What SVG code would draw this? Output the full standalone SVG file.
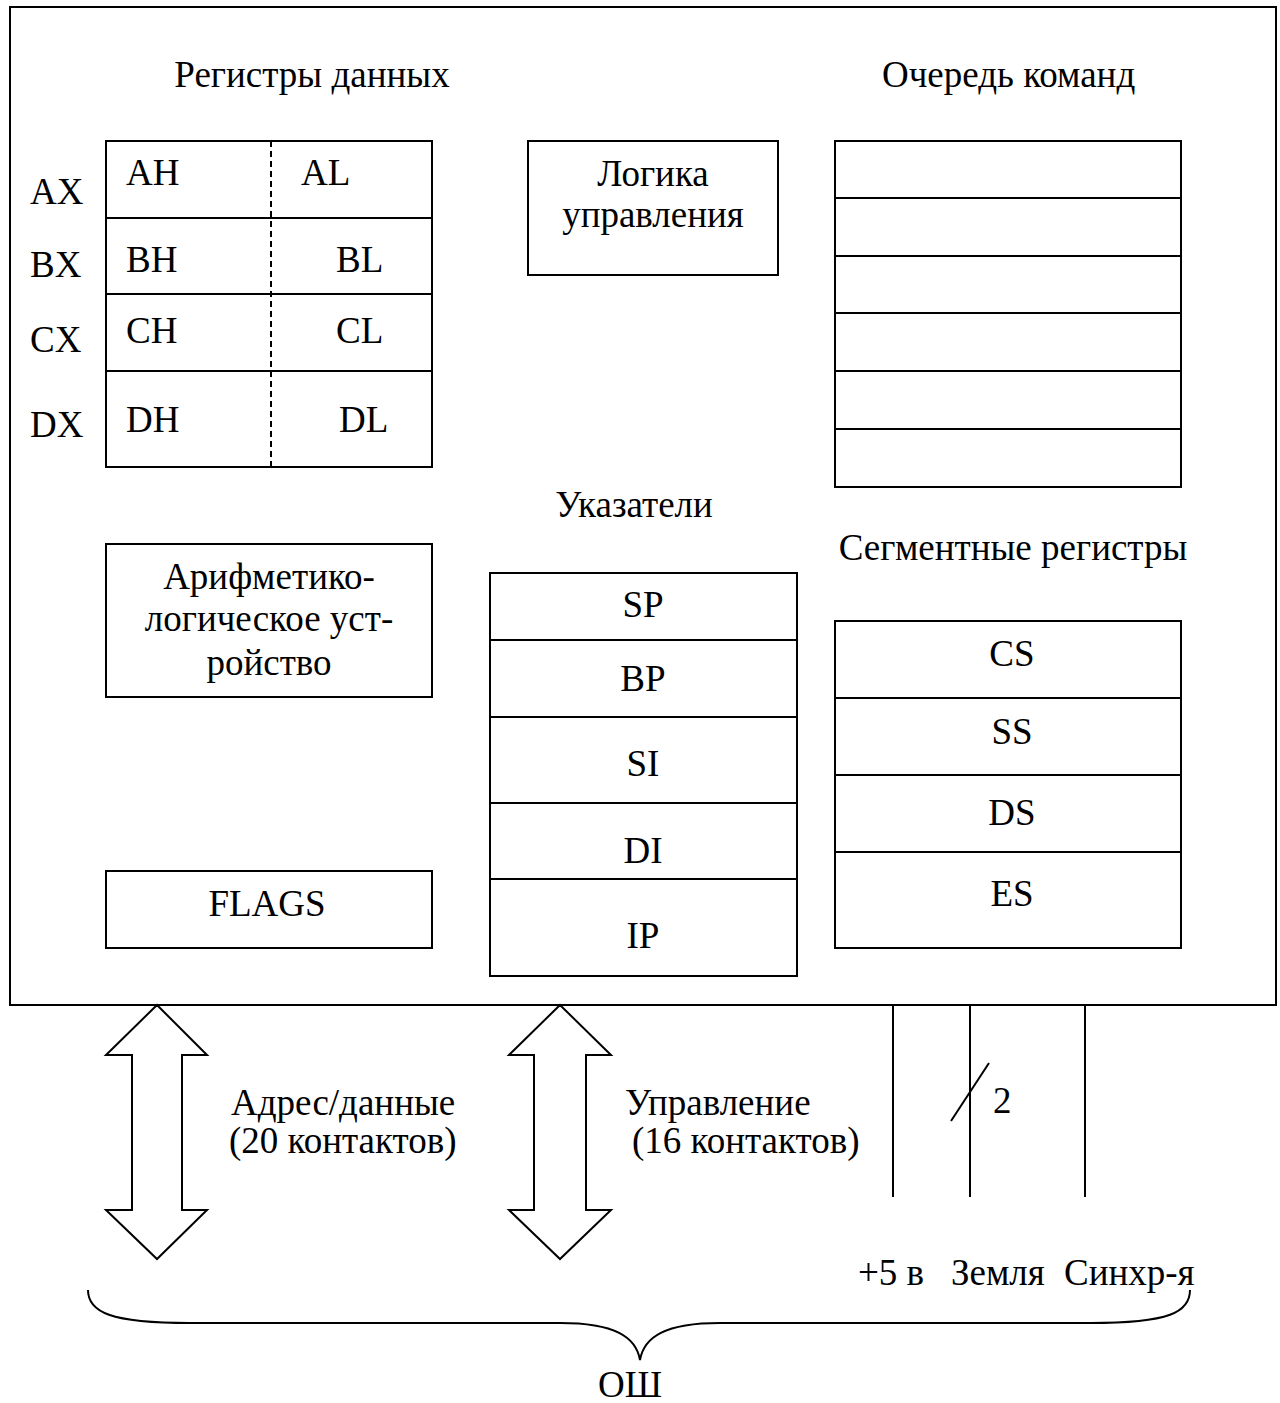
<svg xmlns="http://www.w3.org/2000/svg" width="1280" height="1403" viewBox="0 0 1280 1403">
  <style>
    .box { fill: none; stroke: #000; stroke-width: 2; }
    .ln { fill: none; stroke: #000; stroke-width: 2; }
    .dash { fill: none; stroke: #000; stroke-width: 2; stroke-dasharray: 6 4; }
    .t { font-family: "Liberation Serif", "Times New Roman", serif; font-size: 37px; fill: #000; }
    .c { text-anchor: middle; }
  </style>
  <rect width="1280" height="1403" fill="#fff"/>

  <!-- processor outline -->
  <g id="cpu">
    <rect class="box" x="10" y="7" width="1266" height="998" stroke-width="2.5"/>
  </g>

  <!-- data registers -->
  <g id="data-registers">
    <text class="t c" x="312" y="87">Регистры данных</text>
    <rect class="box" x="106" y="141" width="326" height="326"/>
    <line class="ln" x1="106" y1="218" x2="432" y2="218"/>
    <line class="ln" x1="106" y1="294" x2="432" y2="294"/>
    <line class="ln" x1="106" y1="371" x2="432" y2="371"/>
    <line class="dash" x1="271" y1="141" x2="271" y2="467"/>
    <text class="t" x="30" y="204">AX</text>
    <text class="t" x="30" y="277">BX</text>
    <text class="t" x="30" y="352">CX</text>
    <text class="t" x="30" y="437">DX</text>
    <text class="t" x="126" y="185">AH</text>
    <text class="t" x="301" y="185">AL</text>
    <text class="t" x="126" y="272">BH</text>
    <text class="t" x="336" y="272">BL</text>
    <text class="t" x="126" y="343">CH</text>
    <text class="t" x="336" y="343">CL</text>
    <text class="t" x="126" y="432">DH</text>
    <text class="t" x="339" y="432">DL</text>
  </g>

  <!-- control logic -->
  <g id="control-logic">
    <rect class="box" x="528" y="141" width="250" height="134"/>
    <text class="t c" x="653" y="186">Логика</text>
    <text class="t c" x="653" y="227">управления</text>
  </g>

  <!-- instruction queue -->
  <g id="instruction-queue">
    <text class="t" x="882" y="87">Очередь команд</text>
    <rect class="box" x="835" y="141" width="346" height="346"/>
    <line class="ln" x1="835" y1="198" x2="1181" y2="198"/>
    <line class="ln" x1="835" y1="256" x2="1181" y2="256"/>
    <line class="ln" x1="835" y1="313" x2="1181" y2="313"/>
    <line class="ln" x1="835" y1="371" x2="1181" y2="371"/>
    <line class="ln" x1="835" y1="429" x2="1181" y2="429"/>
  </g>

  <!-- ALU -->
  <g id="alu">
    <rect class="box" x="106" y="544" width="326" height="153"/>
    <text class="t c" x="269" y="589">Арифметико-</text>
    <text class="t c" x="269" y="631">логическое уст-</text>
    <text class="t c" x="269" y="675">ройство</text>
  </g>

  <!-- flags register -->
  <g id="flags">
    <rect class="box" x="106" y="871" width="326" height="77"/>
    <text class="t c" x="267" y="916">FLAGS</text>
  </g>

  <!-- pointer registers -->
  <g id="pointers">
    <text class="t c" x="634" y="517">Указатели</text>
    <rect class="box" x="490" y="573" width="307" height="403"/>
    <line class="ln" x1="490" y1="640" x2="797" y2="640"/>
    <line class="ln" x1="490" y1="717" x2="797" y2="717"/>
    <line class="ln" x1="490" y1="803" x2="797" y2="803"/>
    <line class="ln" x1="490" y1="879" x2="797" y2="879"/>
    <text class="t c" x="643" y="617">SP</text>
    <text class="t c" x="643" y="691">BP</text>
    <text class="t c" x="643" y="776">SI</text>
    <text class="t c" x="643" y="863">DI</text>
    <text class="t c" x="643" y="948">IP</text>
  </g>

  <!-- segment registers -->
  <g id="segment-registers">
    <text class="t c" x="1013" y="560">Сегментные регистры</text>
    <rect class="box" x="835" y="621" width="346" height="327"/>
    <line class="ln" x1="835" y1="698" x2="1181" y2="698"/>
    <line class="ln" x1="835" y1="775" x2="1181" y2="775"/>
    <line class="ln" x1="835" y1="852" x2="1181" y2="852"/>
    <text class="t c" x="1012" y="666">CS</text>
    <text class="t c" x="1012" y="744">SS</text>
    <text class="t c" x="1012" y="825">DS</text>
    <text class="t c" x="1012" y="906">ES</text>
  </g>

  <!-- bus connectors -->
  <g id="connectors">
    <!-- address/data bus -->
    <path class="ln" d="M157 1005 L207 1055 L182 1055 L182 1210 L207 1210 L157 1259 L106 1210 L132 1210 L132 1055 L106 1055 Z"/>
    <!-- control bus -->
    <path class="ln" d="M560 1005 L611 1055 L586 1055 L586 1210 L611 1210 L560 1259 L509 1210 L534 1210 L534 1055 L509 1055 Z"/>
    <!-- power, ground, clock -->
    <line class="ln" x1="893" y1="1005" x2="893" y2="1197"/>
    <line class="ln" x1="970" y1="1005" x2="970" y2="1197"/>
    <line class="ln" x1="1085" y1="1005" x2="1085" y2="1197"/>
    <line class="ln" x1="951" y1="1121" x2="989" y2="1063"/>
    <!-- bus brace -->
    <path class="ln" d="M88 1290 C88 1312 110 1323 190 1323 L560 1323 C615 1323 636 1337 640 1360 C644 1337 665 1323 720 1323 L1090 1323 C1170 1323 1190 1312 1190 1290"/>
  </g>

  <g id="labels">
    <text class="t" x="231" y="1115">Адрес/данные</text>
    <text class="t" x="229" y="1153">(20 контактов)</text>
    <text class="t" x="625" y="1115">Управление</text>
    <text class="t" x="632" y="1153">(16 контактов)</text>
    <text class="t" x="993" y="1113">2</text>
    <text class="t" x="858" y="1285">+5 в</text>
    <text class="t" x="951" y="1285">Земля</text>
    <text class="t" x="1064" y="1285">Синхр-я</text>
    <text class="t c" x="630" y="1397">ОШ</text>
  </g>
</svg>
